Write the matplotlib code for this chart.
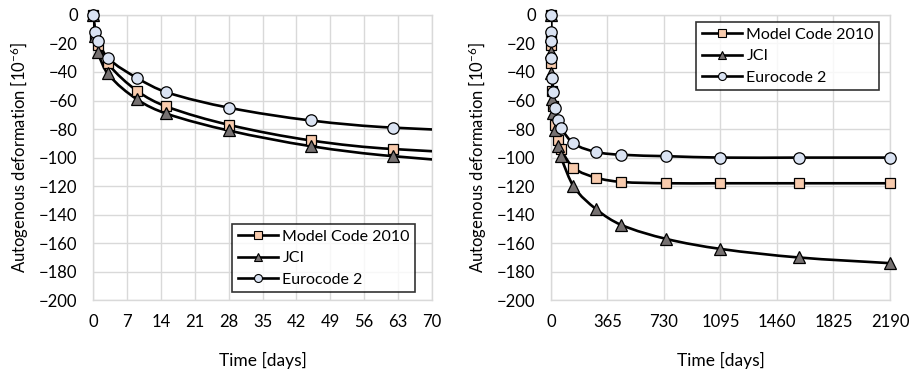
import matplotlib
matplotlib.use("Agg")
import matplotlib.pyplot as plt
from matplotlib.path import Path
from matplotlib.patches import PathPatch

plt.rcParams['font.family'] = ['Lato', 'DejaVu Sans']
plt.rcParams['mathtext.fontset'] = 'custom'
plt.rcParams['mathtext.rm'] = 'Lato'
plt.rcParams['mathtext.it'] = 'Lato'

# ages in days and predicted autogenous deformation [1e-6]
time_days = [0, 0.5, 1, 3, 9, 15, 28, 45, 62, 145, 290, 450, 745, 1095, 1600, 2190]
model_code = [0, -14, -21, -34, -53, -64, -77, -88, -94, -107, -114, -117, -118, -118, -118, -118]
jci = [0, -15, -26, -41, -59, -69, -81, -92, -99, -120, -136, -147, -157, -164, -170, -174]
eurocode = [0, -12, -18, -30, -44, -54, -65, -74, -79, -90, -96, -98, -99, -100, -100, -100]

series = [
    ('Model Code 2010', model_code, 's', '#F8CBAD', 7.5),
    ('JCI', jci, '^', '#767171', 8.5),
    ('Eurocode 2', eurocode, 'o', '#DAE3F3', 8.2),
]

grid_col = '#D9D9D9'


def smooth_path(x, y):
    # cubic Hermite pieces (slopes from neighbouring points) as Bezier curves
    n = len(x)
    slopes = []
    for i in range(n):
        a = max(i - 1, 0)
        b = min(i + 1, n - 1)
        slopes.append((y[b] - y[a]) / (x[b] - x[a]))
    verts = [(x[0], y[0])]
    codes = [Path.MOVETO]
    for i in range(n - 1):
        h = (x[i + 1] - x[i]) / 3
        verts += [(x[i] + h, y[i] + slopes[i] * h),
                  (x[i + 1] - h, y[i + 1] - slopes[i + 1] * h),
                  (x[i + 1], y[i + 1])]
        codes += [Path.CURVE4] * 3
    return Path(verts, codes)


fig = plt.figure(figsize=(9.11, 3.73), dpi=100)
ax1 = fig.add_axes([0.1021, 0.195, 0.3721, 0.765])
ax2 = fig.add_axes([0.6048, 0.195, 0.3721, 0.765])

panels = [(ax1, 70, 7, 'lower left', (0.41, 0.028)),
          (ax2, 2190, 365, 'upper left', (0.428, 0.975))]

for ax, xmax, step, loc, anchor in panels:
    handles = []
    for name, vals, mk, fc, ms in series:
        ax.add_patch(PathPatch(smooth_path(time_days, vals), fill=False,
                               edgecolor='black', linewidth=1.9, zorder=3))
        xs = [t for t in time_days if t <= xmax]
        ys = [v for t, v in zip(time_days, vals) if t <= xmax]
        ax.plot(xs, ys, linestyle='none', marker=mk, markersize=ms,
                markerfacecolor=fc, markeredgecolor='black',
                markeredgewidth=0.9, zorder=4, clip_on=False)
        handles.append(plt.Line2D([], [], color='black', linewidth=1.9, marker=mk,
                                  markersize=ms * 0.7, markerfacecolor=fc,
                                  markeredgecolor='black', markeredgewidth=0.8))
    ax.set_xlim(0, xmax)
    ax.set_ylim(-200, 0)
    ax.set_xticks(range(0, xmax + 1, step))
    ax.set_yticks(range(-200, 1, 20))
    ax.grid(True, color=grid_col, linewidth=1)
    ax.set_axisbelow(True)
    for sp in ax.spines.values():
        sp.set_color(grid_col)
        sp.set_linewidth(1)
    ax.tick_params(length=0, labelsize=12)
    ax.tick_params(axis='y', pad=11)
    ax.tick_params(axis='x', pad=10)
    ax.set_xlabel('Time [days]', fontsize=12.5, labelpad=16)
    ax.set_ylabel('Autogenous deformation [10$^{-6}$]', fontsize=12, labelpad=6)
    leg = ax.legend(handles, [s[0] for s in series], loc=loc,
                    bbox_to_anchor=anchor, fontsize=11.5, frameon=True,
                    fancybox=False, handlelength=2.5, borderpad=0.35,
                    labelspacing=0.45, handletextpad=0.3, borderaxespad=0)
    leg.get_frame().set_edgecolor('black')
    leg.get_frame().set_linewidth(1.2)
    leg.set_zorder(6)

fig.savefig('out.png', dpi=100)
